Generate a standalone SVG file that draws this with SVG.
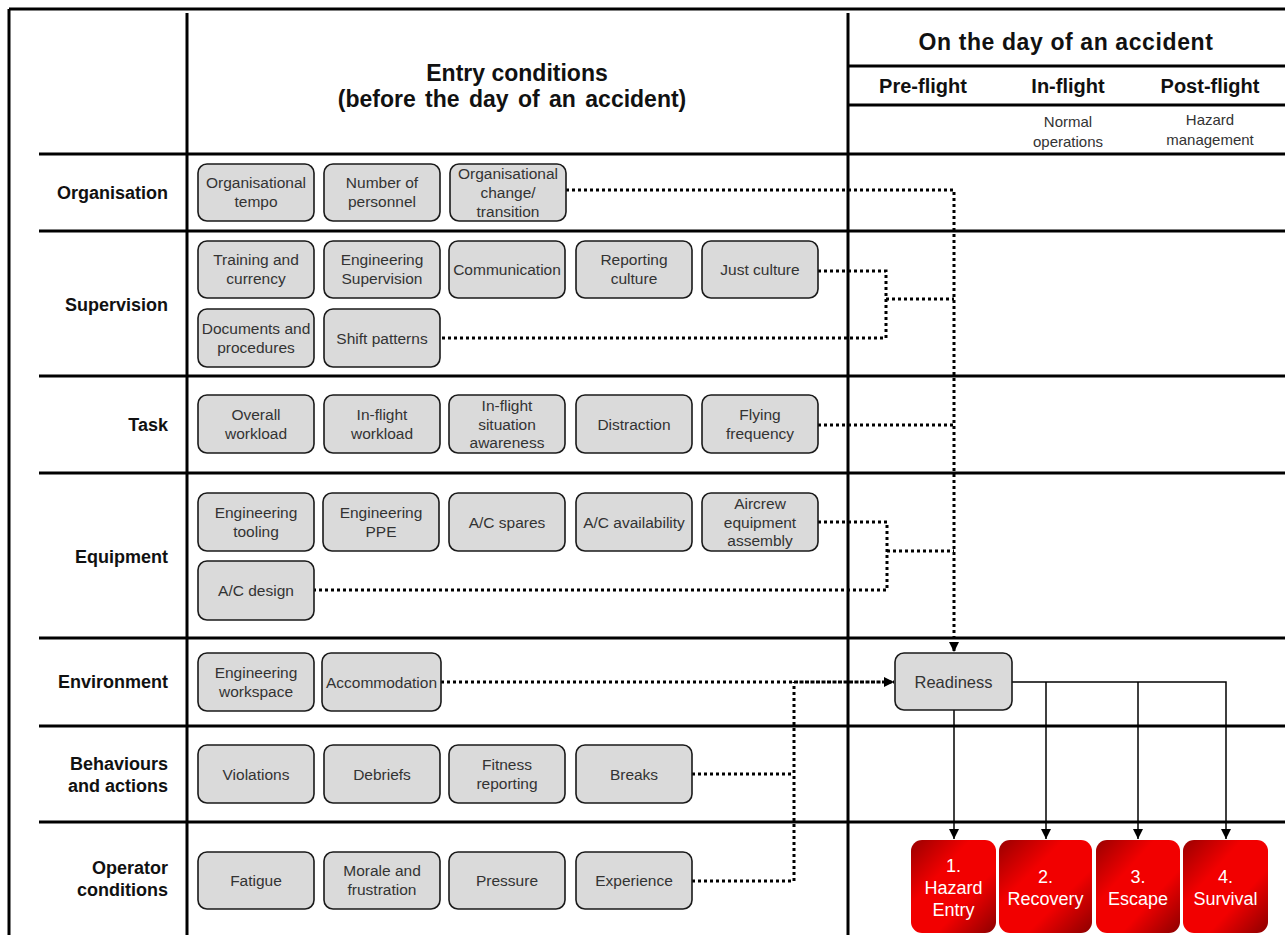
<svg xmlns="http://www.w3.org/2000/svg" width="1285" height="935" viewBox="0 0 1285 935">
<style>
.grid{stroke:#000;stroke-width:3;fill:none}
.box{fill:#dadada;stroke:#1a1a1a;stroke-width:1.6}
.bt{font-family:"Liberation Sans",Arial,sans-serif;font-size:15.5px;fill:#333;text-anchor:middle}
.lbl{font-family:"Liberation Sans",Arial,sans-serif;font-size:18px;font-weight:bold;fill:#111;text-anchor:end}
.hd{font-family:"Liberation Sans",Arial,sans-serif;font-weight:bold;fill:#111;text-anchor:middle}
.sub{font-family:"Liberation Sans",Arial,sans-serif;font-size:15px;fill:#333;text-anchor:middle}
.dot{fill:none;stroke:#000;stroke-width:3;stroke-dasharray:3 3}
.sol{fill:none;stroke:#000;stroke-width:1.5}
.red{fill:url(#rg)}
.rt{font-family:"Liberation Sans",Arial,sans-serif;font-size:18px;fill:#fff;text-anchor:middle}
</style>
<defs>
<linearGradient id="rg" x1="0" y1="0" x2="1" y2="1">
<stop offset="0" stop-color="#9a0000"/>
<stop offset="0.35" stop-color="#f20000"/>
<stop offset="0.65" stop-color="#f20000"/>
<stop offset="1" stop-color="#8c0000"/>
</linearGradient>
<marker id="ah" viewBox="0 0 10 10" refX="10" refY="5" markerWidth="10" markerHeight="10" markerUnits="userSpaceOnUse" orient="auto">
<path d="M0,0 L10,5 L0,10 z" fill="#000"/>
</marker>
</defs>
<rect width="1285" height="935" fill="#fff"/>

<g id="grid">
<path class="grid" d="M9,9 H1285 M9,9 V935 M187,13 V935 M848,13 V935"/>
<path class="grid" d="M848,66 H1285 M848,105 H1285"/>
<path class="grid" d="M39,154 H1285 M39,231 H1285 M39,376 H1285 M39,473 H1285 M39,638 H1285 M39,726 H1285 M39,822 H1285"/>
</g>

<g id="headers">
<text class="hd" font-size="23" x="517" y="81">Entry conditions</text>
<text class="hd" font-size="23" word-spacing="3" x="512" y="107">(before the day of an accident)</text>
<text class="hd" font-size="23" letter-spacing="0.6" x="1066" y="50">On the day of an accident</text>
<text class="hd" font-size="20" x="923" y="93">Pre-flight</text>
<text class="hd" font-size="20" x="1068" y="93">In-flight</text>
<text class="hd" font-size="20" x="1210" y="93">Post-flight</text>
<text class="sub"><tspan x="1068" y="127">Normal</tspan><tspan x="1068" y="147">operations</tspan></text>
<text class="sub"><tspan x="1210" y="125">Hazard</tspan><tspan x="1210" y="145">management</tspan></text>
</g>

<g id="row-labels">
<text class="lbl" x="168" y="199">Organisation</text>
<text class="lbl" x="168" y="311">Supervision</text>
<text class="lbl" x="168" y="431">Task</text>
<text class="lbl" x="168" y="563">Equipment</text>
<text class="lbl" x="168" y="688">Environment</text>
<text class="lbl"><tspan x="168" y="770">Behaviours</tspan><tspan x="168" y="792">and actions</tspan></text>
<text class="lbl"><tspan x="168" y="874">Operator</tspan><tspan x="168" y="896">conditions</tspan></text>
</g>

<g id="connectors">
<path class="dot" d="M566,190 H954 V652" marker-end="url(#ah)"/>
<path class="dot" d="M818,271 H886 V338 H440"/>
<path class="dot" d="M886,299 H954"/>
<path class="dot" d="M818,425 H954"/>
<path class="dot" d="M818,522 H887 V590 H313"/>
<path class="dot" d="M887,551 H954"/>
<path class="dot" d="M441,682 H794"/>
<path class="dot" d="M794,682 H894" style="stroke-dasharray:4 1.5" marker-end="url(#ah)"/>
<path class="dot" d="M692,774 H794"/>
<path class="dot" d="M692,881 H794 V682"/>
<path class="sol" d="M954,710 V839" marker-end="url(#ah)"/>
<path class="sol" d="M1012,682 H1226 V839" marker-end="url(#ah)"/>
<path class="sol" d="M1046,682 V839" marker-end="url(#ah)"/>
<path class="sol" d="M1138,682 V839" marker-end="url(#ah)"/>
</g>

<g id="n-org-tempo"><rect class="box" x="198" y="164" width="116" height="57" rx="9"/><text class="bt"><tspan x="256" y="188">Organisational</tspan><tspan x="256" y="207">tempo</tspan></text></g>
<g id="n-personnel"><rect class="box" x="324" y="164" width="116" height="57" rx="9"/><text class="bt"><tspan x="382" y="188">Number of</tspan><tspan x="382" y="207">personnel</tspan></text></g>
<g id="n-org-change"><rect class="box" x="450" y="164" width="116" height="57" rx="9"/><text class="bt"><tspan x="508" y="179">Organisational</tspan><tspan x="508" y="198">change/</tspan><tspan x="508" y="216.5">transition</tspan></text></g>

<g id="n-training"><rect class="box" x="198" y="241" width="116" height="57" rx="9"/><text class="bt"><tspan x="256" y="265">Training and</tspan><tspan x="256" y="284">currency</tspan></text></g>
<g id="n-eng-supervision"><rect class="box" x="324" y="241" width="116" height="57" rx="9"/><text class="bt"><tspan x="382" y="265">Engineering</tspan><tspan x="382" y="284">Supervision</tspan></text></g>
<g id="n-communication"><rect class="box" x="449" y="241" width="116" height="57" rx="9"/><text class="bt" x="507" y="275">Communication</text></g>
<g id="n-reporting"><rect class="box" x="576" y="241" width="116" height="57" rx="9"/><text class="bt"><tspan x="634" y="265">Reporting</tspan><tspan x="634" y="284">culture</tspan></text></g>
<g id="n-just-culture"><rect class="box" x="702" y="241" width="116" height="57" rx="9"/><text class="bt" x="760" y="275">Just culture</text></g>
<g id="n-documents"><rect class="box" x="198" y="309" width="116" height="58" rx="9"/><text class="bt"><tspan x="256" y="333.5">Documents and</tspan><tspan x="256" y="352.5">procedures</tspan></text></g>
<g id="n-shift"><rect class="box" x="324" y="309" width="116" height="58" rx="9"/><text class="bt" x="382" y="343.5">Shift patterns</text></g>

<g id="n-overall-workload"><rect class="box" x="198" y="395" width="116" height="58" rx="9"/><text class="bt"><tspan x="256" y="419.5">Overall</tspan><tspan x="256" y="438.5">workload</tspan></text></g>
<g id="n-inflight-workload"><rect class="box" x="324" y="395" width="116" height="58" rx="9"/><text class="bt"><tspan x="382" y="419.5">In-flight</tspan><tspan x="382" y="438.5">workload</tspan></text></g>
<g id="n-situation"><rect class="box" x="449" y="395" width="116" height="58" rx="9"/><text class="bt"><tspan x="507" y="410.5">In-flight</tspan><tspan x="507" y="429.5">situation</tspan><tspan x="507" y="448">awareness</tspan></text></g>
<g id="n-distraction"><rect class="box" x="576" y="395" width="116" height="58" rx="9"/><text class="bt" x="634" y="429.5">Distraction</text></g>
<g id="n-flying"><rect class="box" x="702" y="395" width="116" height="58" rx="9"/><text class="bt"><tspan x="760" y="419.5">Flying</tspan><tspan x="760" y="438.5">frequency</tspan></text></g>

<g id="n-tooling"><rect class="box" x="198" y="493" width="116" height="58" rx="9"/><text class="bt"><tspan x="256" y="517.5">Engineering</tspan><tspan x="256" y="536.5">tooling</tspan></text></g>
<g id="n-ppe"><rect class="box" x="323" y="493" width="116" height="58" rx="9"/><text class="bt"><tspan x="381" y="517.5">Engineering</tspan><tspan x="381" y="536.5">PPE</tspan></text></g>
<g id="n-spares"><rect class="box" x="449" y="493" width="116" height="58" rx="9"/><text class="bt" x="507" y="527.5">A/C spares</text></g>
<g id="n-availability"><rect class="box" x="576" y="493" width="116" height="58" rx="9"/><text class="bt" x="634" y="527.5">A/C availability</text></g>
<g id="n-aircrew"><rect class="box" x="702" y="493" width="116" height="58" rx="9"/><text class="bt"><tspan x="760" y="508.5">Aircrew</tspan><tspan x="760" y="527.5">equipment</tspan><tspan x="760" y="546">assembly</tspan></text></g>
<g id="n-design"><rect class="box" x="198" y="561" width="116" height="59" rx="9"/><text class="bt" x="256" y="596">A/C design</text></g>

<g id="n-workspace"><rect class="box" x="198" y="653" width="116" height="58" rx="9"/><text class="bt"><tspan x="256" y="677.5">Engineering</tspan><tspan x="256" y="696.5">workspace</tspan></text></g>
<g id="n-accommodation"><rect class="box" x="322" y="653" width="119" height="58" rx="9"/><text class="bt" x="381.5" y="687.5">Accommodation</text></g>

<g id="n-violations"><rect class="box" x="198" y="745" width="116" height="58" rx="9"/><text class="bt" x="256" y="779.5">Violations</text></g>
<g id="n-debriefs"><rect class="box" x="324" y="745" width="116" height="58" rx="9"/><text class="bt" x="382" y="779.5">Debriefs</text></g>
<g id="n-fitness"><rect class="box" x="449" y="745" width="116" height="58" rx="9"/><text class="bt"><tspan x="507" y="769.5">Fitness</tspan><tspan x="507" y="788.5">reporting</tspan></text></g>
<g id="n-breaks"><rect class="box" x="576" y="745" width="116" height="58" rx="9"/><text class="bt" x="634" y="779.5">Breaks</text></g>

<g id="n-fatigue"><rect class="box" x="198" y="852" width="116" height="57" rx="9"/><text class="bt" x="256" y="886">Fatigue</text></g>
<g id="n-morale"><rect class="box" x="324" y="852" width="116" height="57" rx="9"/><text class="bt"><tspan x="382" y="876">Morale and</tspan><tspan x="382" y="895">frustration</tspan></text></g>
<g id="n-pressure"><rect class="box" x="449" y="852" width="116" height="57" rx="9"/><text class="bt" x="507" y="886">Pressure</text></g>
<g id="n-experience"><rect class="box" x="576" y="852" width="116" height="57" rx="9"/><text class="bt" x="634" y="886">Experience</text></g>

<g id="n-readiness"><rect class="box" x="895" y="653" width="117" height="57" rx="9"/><text class="bt" style="font-size:16.5px" x="953.5" y="687.5">Readiness</text></g>

<g id="n-hazard-entry"><rect class="red" x="911" y="840" width="85" height="93" rx="11"/><text class="rt"><tspan x="953.5" y="872">1.</tspan><tspan x="953.5" y="894">Hazard</tspan><tspan x="953.5" y="916">Entry</tspan></text></g>
<g id="n-recovery"><rect class="red" x="999" y="840" width="93" height="93" rx="11"/><text class="rt"><tspan x="1045.5" y="883">2.</tspan><tspan x="1045.5" y="905">Recovery</tspan></text></g>
<g id="n-escape"><rect class="red" x="1096" y="840" width="84" height="93" rx="11"/><text class="rt"><tspan x="1138" y="883">3.</tspan><tspan x="1138" y="905">Escape</tspan></text></g>
<g id="n-survival"><rect class="red" x="1183" y="840" width="85" height="93" rx="11"/><text class="rt"><tspan x="1225.5" y="883">4.</tspan><tspan x="1225.5" y="905">Survival</tspan></text></g>
</svg>
